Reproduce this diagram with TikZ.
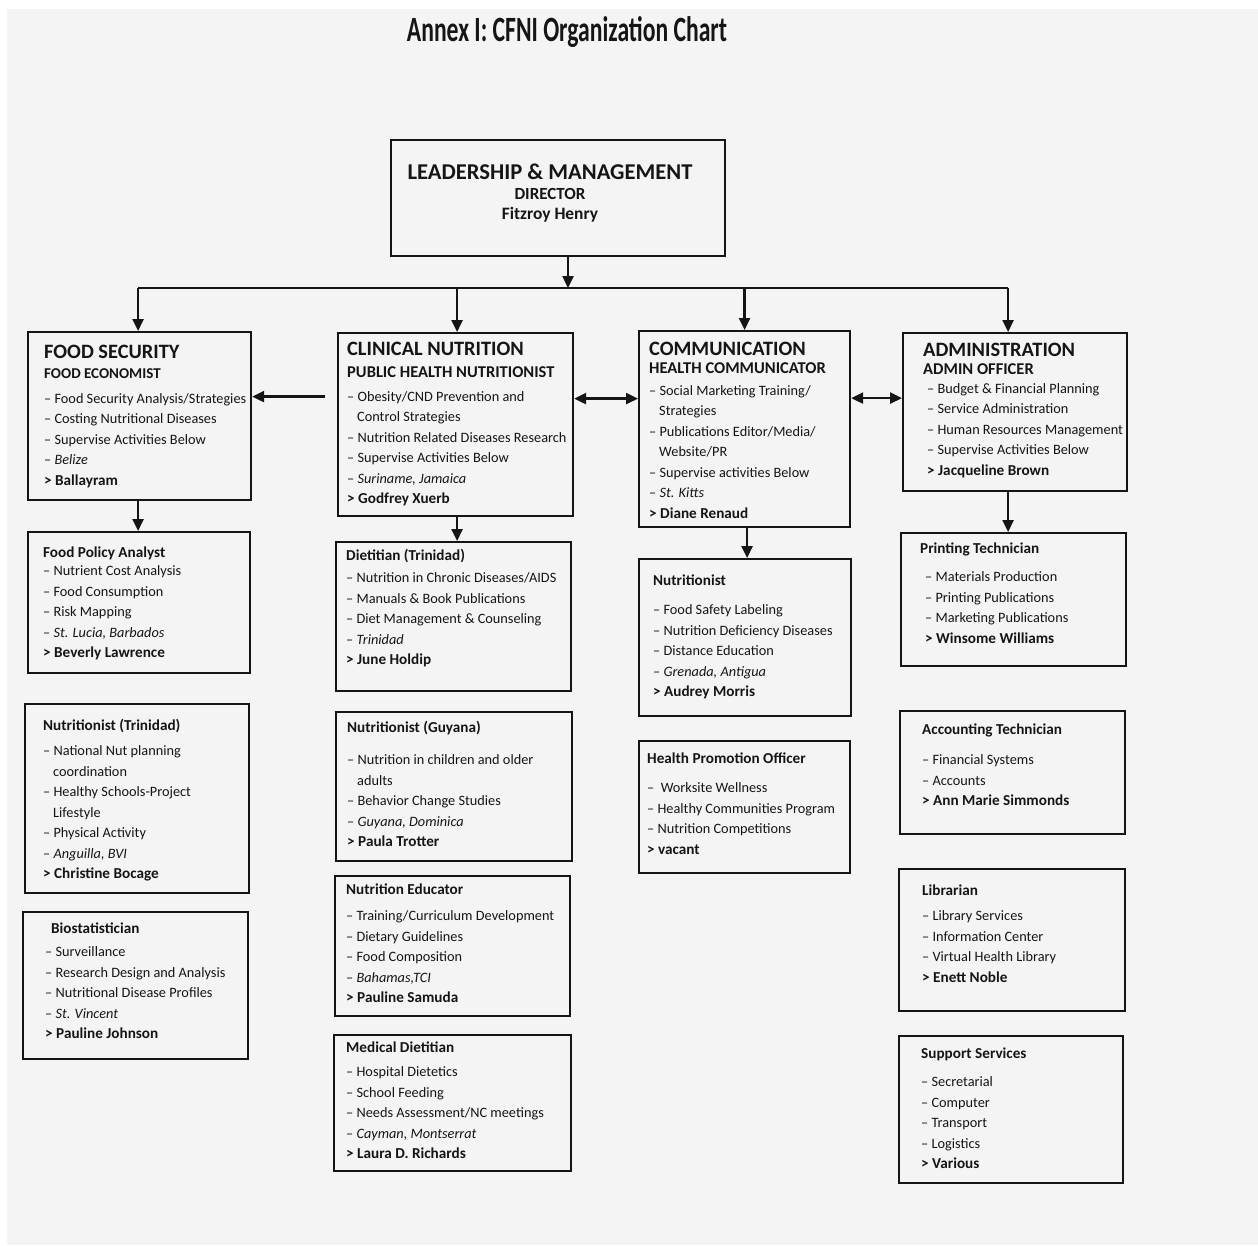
\documentclass[tikz,border=0pt]{standalone}
\usepackage{fontspec}
\setmainfont{Carlito}
\usepackage{graphicx}
\usepackage{xcolor}
\usetikzlibrary{arrows.meta}
\definecolor{scan}{HTML}{F4F4F4}
\definecolor{ink}{HTML}{151515}
\tikzset{
  unit/.style={draw=ink,line width=2.2pt,inner sep=0pt,anchor=north west},
  txt/.style={anchor=base west,inner sep=0pt,text=ink,font=\fontsize{14.3}{20.5}\selectfont},
  arr/.style={draw=ink,line width=2.4pt,-{Triangle[length=12pt,width=11pt]}},
  darr/.style={draw=ink,line width=2.4pt,{Triangle[length=12pt,width=11pt]}-{Triangle[length=12pt,width=11pt]}},
  bus/.style={draw=ink,line width=2.4pt}
}
\newcommand{\rows}[1]{\begin{tabular}[t]{@{}l@{}}#1\end{tabular}}
\newcommand{\hd}[1]{{\fontsize{20.4}{20}\selectfont\bfseries #1}}
\newcommand{\role}[1]{{\fontsize{16.5}{18}\selectfont\bfseries #1}}
\newcommand{\tl}[1]{{\fontsize{15.2}{18}\selectfont\bfseries #1}}
\newcommand{\who}[1]{{\fontsize{15.2}{18}\selectfont\bfseries > #1}}
\newcommand{\place}[1]{-- \textit{#1}}

\begin{document}
\begin{tikzpicture}[x=1pt,y=-1pt]
\useasboundingbox (0,0) rectangle (1258,1245);
\fill[white] (0,0) rectangle (1258,1245);
\fill[scan] (7,9) rectangle (1258,1245);

\node[anchor=base,inner sep=0pt,text=ink] (title) at (567,41)
  {\resizebox{320pt}{25pt}{\bfseries Annex I: CFNI Organization Chart}};

% director
\node[unit,minimum width=334,minimum height=116] (lm) at (390,139) {};
\node[txt,anchor=base] (lm-t) at (550,179) {\begin{tabular}[t]{@{}c@{}}%
  {\fontsize{22.6}{22}\selectfont\bfseries LEADERSHIP \& MANAGEMENT}\\[-0.5pt]
  {\fontsize{17}{18}\selectfont\bfseries DIRECTOR}\\
  {\fontsize{17.4}{18}\selectfont\bfseries Fitzroy Henry}\end{tabular}};

% food security column
\node[unit,minimum width=223,minimum height=168] (fs) at (27,331) {};
\node[txt] (fs-t) at (44,358) {\rows{\hd{FOOD SECURITY}\\[0pt]
  {\fontsize{15}{18}\selectfont\bfseries FOOD ECONOMIST}\\[4.3pt]
  -- Food Security Analysis/Strategies\\
  -- Costing Nutritional Diseases\\
  -- Supervise Activities Below\\
  \place{Belize}\\
  \who{Ballayram}}};

\node[unit,minimum width=222,minimum height=141] (fp) at (27,531) {};
\node[txt] (fp-t) at (43,557.5) {\rows{\tl{Food Policy Analyst}\\[-2.5pt]
  -- Nutrient Cost Analysis\\
  -- Food Consumption\\
  -- Risk Mapping\\
  \place{St. Lucia, Barbados}\\
  \who{Beverly Lawrence}}};

\node[unit,minimum width=224,minimum height=189] (nt) at (24,703) {};
\node[txt] (nt-t) at (43,730.5) {\rows{\tl{Nutritionist (Trinidad)}\\[4.5pt]
  -- National Nut planning\\
  \hspace{10pt}coordination\\
  -- Healthy Schools-Project\\
  \hspace{10pt}Lifestyle\\
  -- Physical Activity\\
  \place{Anguilla, BVI}\\
  \who{Christine Bocage}}};

\node[unit,minimum width=225,minimum height=147] (bs) at (22,911) {};
\node[txt] (bs-t) at (45,933.5) {\rows{\hspace{6pt}\tl{Biostatistician}\\[2.5pt]
  -- Surveillance\\
  -- Research Design and Analysis\\
  -- Nutritional Disease Profiles\\
  \place{St. Vincent}\\
  \who{Pauline Johnson}}};

% clinical nutrition column
\node[unit,minimum width=235,minimum height=183] (cn) at (337,332) {};
\node[txt] (cn-t) at (347,355) {\rows{\hd{CLINICAL NUTRITION}\\[2pt]
  \role{PUBLIC HEALTH NUTRITIONIST}\\[3.3pt]
  -- Obesity/CND Prevention and\\
  \hspace{10pt}Control Strategies\\
  -- Nutrition Related Diseases Research\\
  -- Supervise Activities Below\\
  \place{Suriname, Jamaica}\\
  \who{Godfrey Xuerb}}};

\node[unit,minimum width=235,minimum height=149] (dt) at (335,541) {};
\node[txt] (dt-t) at (346,560.5) {\rows{\tl{Dietitian (Trinidad)}\\[1.5pt]
  -- Nutrition in Chronic Diseases/AIDS\\
  -- Manuals \& Book Publications\\
  -- Diet Management \& Counseling\\
  \place{Trinidad}\\
  \who{June Holdip}}};

\node[unit,minimum width=236,minimum height=149] (ng) at (335,711) {};
\node[txt] (ng-t) at (347,732.5) {\rows{\tl{Nutritionist (Guyana)}\\[11.5pt]
  -- Nutrition in children and older\\
  \hspace{10pt}adults\\
  -- Behavior Change Studies\\
  \place{Guyana, Dominica}\\
  \who{Paula Trotter}}};

\node[unit,minimum width=235,minimum height=140] (ne) at (334,875) {};
\node[txt] (ne-t) at (346,894.5) {\rows{\tl{Nutrition Educator}\\[5.5pt]
  -- Training/Curriculum Development\\
  -- Dietary Guidelines\\
  -- Food Composition\\
  \place{Bahamas,TCI}\\
  \who{Pauline Samuda}}};

\node[unit,minimum width=237,minimum height=136] (md) at (333,1034) {};
\node[txt] (md-t) at (346,1052.5) {\rows{\tl{Medical Dietitian}\\[3.5pt]
  -- Hospital Dietetics\\
  -- School Feeding\\
  -- Needs Assessment/NC meetings\\
  \place{Cayman, Montserrat}\\
  \who{Laura D. Richards}}};

% communication column
\node[unit,minimum width=211,minimum height=196] (cm) at (638,330) {};
\node[txt] (cm-t) at (649,355) {\rows{\hd{COMMUNICATION}\\[-2pt]
  \role{HEALTH COMMUNICATOR}\\[1.3pt]
  -- Social Marketing Training/\\
  \hspace{10pt}Strategies\\
  -- Publications Editor/Media/\\
  \hspace{10pt}Website/PR\\
  -- Supervise activities Below\\
  \place{St. Kitts}\\
  \who{Diane Renaud}}};

\node[unit,minimum width=212,minimum height=157] (nu) at (638,558) {};
\node[txt] (nu-t) at (653,585.5) {\rows{\tl{Nutritionist}\\[8.5pt]
  -- Food Safety Labeling\\
  -- Nutrition Deficiency Diseases\\
  -- Distance Education\\
  \place{Grenada, Antigua}\\
  \who{Audrey Morris}}};

\node[unit,minimum width=211,minimum height=132] (hp) at (638,740) {};
\node[txt] (hp-t) at (647,763.5) {\rows{\tl{Health Promotion Officer}\\[8.5pt]
  --\ \ Worksite Wellness\\
  -- Healthy Communities Program\\
  -- Nutrition Competitions\\
  \who{vacant}}};

% administration column
\node[unit,minimum width=224,minimum height=158] (adm) at (902,332) {};
\node[txt] (adm-t) at (923,356) {\rows{\hd{ADMINISTRATION}\\[-2pt]
  \role{ADMIN OFFICER}\\[-1.7pt]
  \hspace{4pt}-- Budget \& Financial Planning\\
  \hspace{4pt}-- Service Administration\\
  \hspace{4pt}-- Human Resources Management\\
  \hspace{4pt}-- Supervise Activities Below\\
  \hspace{4pt}\who{Jacqueline Brown}}};

\node[unit,minimum width=225,minimum height=133] (pt) at (900,532) {};
\node[txt] (pt-t) at (920,553.5) {\rows{\tl{Printing Technician}\\[7.5pt]
  \hspace{5pt}-- Materials Production\\
  \hspace{5pt}-- Printing Publications\\
  \hspace{5pt}-- Marketing Publications\\
  \hspace{5pt}\who{Winsome Williams}}};

\node[unit,minimum width=225,minimum height=123] (ac) at (899,710) {};
\node[txt] (ac-t) at (922,734.5) {\rows{\tl{Accounting Technician}\\[9.5pt]
  -- Financial Systems\\
  -- Accounts\\
  \who{Ann Marie Simmonds}}};

\node[unit,minimum width=226,minimum height=142] (lb) at (898,868) {};
\node[txt] (lb-t) at (922,895.5) {\rows{\tl{Librarian}\\[4.5pt]
  -- Library Services\\
  -- Information Center\\
  -- Virtual Health Library\\
  \who{Enett Noble}}};

\node[unit,minimum width=224,minimum height=147] (ss) at (898,1035) {};
\node[txt] (ss-t) at (921,1058.5) {\rows{\tl{Support Services}\\[7.5pt]
  -- Secretarial\\
  -- Computer\\
  -- Transport\\
  -- Logistics\\
  \who{Various}}};

% connectors
\coordinate (hub) at (568,288);
\draw[arr] (lm.south -| hub) -- (hub);
\draw[bus] ([xshift=-1.5pt]fs.north |- hub) -- ([xshift=-7pt]adm.north |- hub);
\draw[arr] ([xshift=-1.5pt]fs.north |- hub) -- ([xshift=-1.5pt]fs.north);
\draw[arr] ([xshift=1.5pt]cn.north |- hub) -- ([xshift=1.5pt]cn.north);
\draw[arr] (cm.north |- hub) -- (cm.north);
\draw[arr] ([xshift=-7pt]adm.north |- hub) -- ([xshift=-7pt]adm.north);
\draw[arr] ([xshift=-1.5pt]fs.south) -- ([xshift=-1.5pt]fs.south |- fp.north);
\draw[arr] ([xshift=1.5pt]cn.south) -- ([xshift=1.5pt]cn.south |- dt.north);
\draw[arr] ([xshift=2.5pt]cm.south) -- ([xshift=2.5pt]cm.south |- nu.north);
\draw[arr] ([xshift=-7pt]adm.south) -- ([xshift=-7pt]adm.south |- pt.north);
\draw[arr,shorten <=12pt] ([yshift=28pt]cn.west) -- ([yshift=28pt]cn.west -| fs.east);
\draw[darr] ([yshift=26pt]cn.east) -- ([yshift=26pt]cn.east -| cm.west);
\draw[darr] ([yshift=31pt]cm.east) -- ([yshift=31pt]cm.east -| adm.west);
\end{tikzpicture}
\end{document}
